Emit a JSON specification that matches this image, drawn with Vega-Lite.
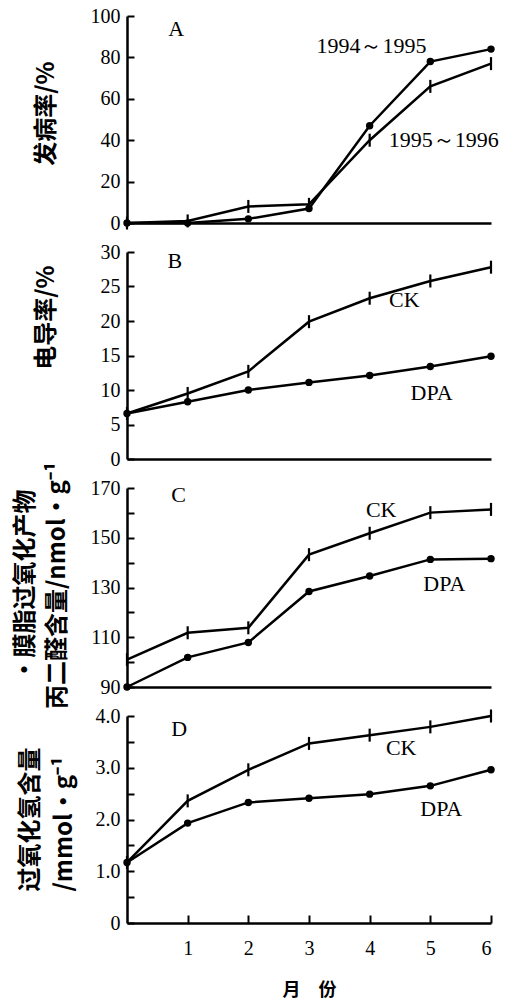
{
  "$schema": "https://vega.github.io/schema/vega-lite/v6.json",
  "padding": {"left": 12, "top": 6, "right": 0, "bottom": 0},
  "background": "white",
  "config": {
    "view": {"stroke": null},
    "axis": {
      "domainColor": "black", "domainWidth": 2.5,
      "tickColor": "black", "tickWidth": 2,
      "labelColor": "black", "labelFont": "Liberation Serif", "labelFontSize": 20,
      "titleColor": "black", "titleFont": "Noto Sans CJK SC", "titleFontSize": 24, "titleFontWeight": "bold",
      "grid": false
    }
  },
  "datasets": {
    "series": [
      {"panel": "A", "series": "1994～1995", "month": 0, "value": 0},
      {"panel": "A", "series": "1994～1995", "month": 1, "value": 0},
      {"panel": "A", "series": "1994～1995", "month": 2, "value": 2},
      {"panel": "A", "series": "1994～1995", "month": 3, "value": 7},
      {"panel": "A", "series": "1994～1995", "month": 4, "value": 47},
      {"panel": "A", "series": "1994～1995", "month": 5, "value": 78},
      {"panel": "A", "series": "1994～1995", "month": 6, "value": 84},
      {"panel": "A", "series": "1995～1996", "month": 0, "value": 0},
      {"panel": "A", "series": "1995～1996", "month": 1, "value": 1},
      {"panel": "A", "series": "1995～1996", "month": 2, "value": 8},
      {"panel": "A", "series": "1995～1996", "month": 3, "value": 9},
      {"panel": "A", "series": "1995～1996", "month": 4, "value": 40},
      {"panel": "A", "series": "1995～1996", "month": 5, "value": 66},
      {"panel": "A", "series": "1995～1996", "month": 6, "value": 77},
      {"panel": "B", "series": "CK", "month": 0, "value": 6.6},
      {"panel": "B", "series": "CK", "month": 1, "value": 9.5},
      {"panel": "B", "series": "CK", "month": 2, "value": 12.7},
      {"panel": "B", "series": "CK", "month": 3, "value": 19.9},
      {"panel": "B", "series": "CK", "month": 4, "value": 23.3},
      {"panel": "B", "series": "CK", "month": 5, "value": 25.8},
      {"panel": "B", "series": "CK", "month": 6, "value": 27.8},
      {"panel": "B", "series": "DPA", "month": 0, "value": 6.6},
      {"panel": "B", "series": "DPA", "month": 1, "value": 8.3},
      {"panel": "B", "series": "DPA", "month": 2, "value": 10},
      {"panel": "B", "series": "DPA", "month": 3, "value": 11.1},
      {"panel": "B", "series": "DPA", "month": 4, "value": 12.1},
      {"panel": "B", "series": "DPA", "month": 5, "value": 13.4},
      {"panel": "B", "series": "DPA", "month": 6, "value": 14.9},
      {"panel": "C", "series": "CK", "month": 0, "value": 101},
      {"panel": "C", "series": "CK", "month": 1, "value": 111.8},
      {"panel": "C", "series": "CK", "month": 2, "value": 113.8},
      {"panel": "C", "series": "CK", "month": 3, "value": 143.2},
      {"panel": "C", "series": "CK", "month": 4, "value": 151.8},
      {"panel": "C", "series": "CK", "month": 5, "value": 160.1},
      {"panel": "C", "series": "CK", "month": 6, "value": 161.4},
      {"panel": "C", "series": "DPA", "month": 0, "value": 90},
      {"panel": "C", "series": "DPA", "month": 1, "value": 101.9},
      {"panel": "C", "series": "DPA", "month": 2, "value": 107.9},
      {"panel": "C", "series": "DPA", "month": 3, "value": 128.4},
      {"panel": "C", "series": "DPA", "month": 4, "value": 134.6},
      {"panel": "C", "series": "DPA", "month": 5, "value": 141.3},
      {"panel": "C", "series": "DPA", "month": 6, "value": 141.6},
      {"panel": "D", "series": "CK", "month": 0, "value": 1.17},
      {"panel": "D", "series": "CK", "month": 1, "value": 2.36},
      {"panel": "D", "series": "CK", "month": 2, "value": 2.96},
      {"panel": "D", "series": "CK", "month": 3, "value": 3.47},
      {"panel": "D", "series": "CK", "month": 4, "value": 3.63},
      {"panel": "D", "series": "CK", "month": 5, "value": 3.79},
      {"panel": "D", "series": "CK", "month": 6, "value": 4.0},
      {"panel": "D", "series": "DPA", "month": 0, "value": 1.17},
      {"panel": "D", "series": "DPA", "month": 1, "value": 1.93},
      {"panel": "D", "series": "DPA", "month": 2, "value": 2.33},
      {"panel": "D", "series": "DPA", "month": 3, "value": 2.41},
      {"panel": "D", "series": "DPA", "month": 4, "value": 2.49},
      {"panel": "D", "series": "DPA", "month": 5, "value": 2.65},
      {"panel": "D", "series": "DPA", "month": 6, "value": 2.96}
    ],
    "labels": [
      {"panel": "A", "text": "A", "month": 0.81, "value": 93.7},
      {"panel": "A", "text": "1994～1995", "month": 4.03, "value": 85.6},
      {"panel": "A", "text": "1995～1996", "month": 5.22, "value": 39.9},
      {"panel": "B", "text": "B", "month": 0.79, "value": 28.7},
      {"panel": "B", "text": "CK", "month": 4.57, "value": 23.1},
      {"panel": "B", "text": "DPA", "month": 5.02, "value": 9.6},
      {"panel": "C", "text": "C", "month": 0.85, "value": 167.2},
      {"panel": "C", "text": "CK", "month": 4.19, "value": 161.3},
      {"panel": "C", "text": "DPA", "month": 5.23, "value": 131.6},
      {"panel": "D", "text": "D", "month": 0.86, "value": 3.75},
      {"panel": "D", "text": "CK", "month": 4.52, "value": 3.38},
      {"panel": "D", "text": "DPA", "month": 5.18, "value": 2.21}
    ]
  },
  "bounds": "flush",
  "spacing": 29,
  "vconcat": [
    {
      "width": 364, "height": 207,
      "encoding": {
        "x": {"field": "month", "type": "quantitative", "scale": {"domain": [0, 6], "nice": false},
              "axis": {"ticks": false, "labels": false, "title": null}},
        "y": {"field": "value", "type": "quantitative", "scale": {"domain": [0, 100], "nice": false},
              "axis": {"values": [0, 20, 40, 60, 80, 100], "tickSize": -7, "labelPadding": 14,
                       "title": "发病率/%", "titleX": -81, "titleY": 97, "titleBaseline": "middle", "titleAlign": "center"}}
      },
      "layer": [
        {"data": {"name": "series"}, "transform": [{"filter": "datum.panel == 'A'"}],
         "mark": {"type": "line", "color": "black", "strokeWidth": 2.5},
         "encoding": {"detail": {"field": "series"}}},
        {"data": {"name": "series"}, "transform": [{"filter": "datum.panel == 'A' && datum.series == '1994～1995'"}],
         "mark": {"type": "point", "shape": "circle", "filled": true, "color": "black", "size": 55, "opacity": 1}},
        {"data": {"name": "series"}, "transform": [{"filter": "datum.panel == 'A' && datum.series == '1995～1996'"}],
         "mark": {"type": "point", "shape": "M0,-1L0,1", "filled": false, "color": "black", "strokeWidth": 2.2, "size": 169, "opacity": 1}},
        {"data": {"name": "labels"}, "transform": [{"filter": "datum.panel == 'A'"}],
         "mark": {"type": "text", "font": "Liberation Serif", "fontSize": 22, "color": "black", "baseline": "middle", "align": "center"},
         "encoding": {"text": {"field": "text"}}}
      ]
    },
    {
      "width": 364, "height": 207,
      "encoding": {
        "x": {"field": "month", "type": "quantitative", "scale": {"domain": [0, 6], "nice": false},
              "axis": {"ticks": false, "labels": false, "title": null}},
        "y": {"field": "value", "type": "quantitative", "scale": {"domain": [0, 30], "nice": false},
              "axis": {"values": [0, 5, 10, 15, 20, 25, 30], "tickSize": -7, "labelPadding": 14,
                       "title": "电导率/%", "titleX": -81, "titleY": 65, "titleBaseline": "middle", "titleAlign": "center"}}
      },
      "layer": [
        {"data": {"name": "series"}, "transform": [{"filter": "datum.panel == 'B'"}],
         "mark": {"type": "line", "color": "black", "strokeWidth": 2.5},
         "encoding": {"detail": {"field": "series"}}},
        {"data": {"name": "series"}, "transform": [{"filter": "datum.panel == 'B' && datum.series == 'DPA'"}],
         "mark": {"type": "point", "shape": "circle", "filled": true, "color": "black", "size": 55, "opacity": 1}},
        {"data": {"name": "series"}, "transform": [{"filter": "datum.panel == 'B' && datum.series == 'CK'"}],
         "mark": {"type": "point", "shape": "M0,-1L0,1", "filled": false, "color": "black", "strokeWidth": 2.2, "size": 169, "opacity": 1}},
        {"data": {"name": "labels"}, "transform": [{"filter": "datum.panel == 'B'"}],
         "mark": {"type": "text", "font": "Liberation Serif", "fontSize": 22, "color": "black", "baseline": "middle", "align": "center"},
         "encoding": {"text": {"field": "text"}}}
      ]
    },
    {
      "width": 364, "height": 199,
      "encoding": {
        "x": {"field": "month", "type": "quantitative", "scale": {"domain": [0, 6], "nice": false},
              "axis": {"ticks": false, "labels": false, "title": null}},
        "y": {"field": "value", "type": "quantitative", "scale": {"domain": [90, 170], "nice": false, "zero": false},
              "axis": {"values": [90, 100, 110, 120, 130, 140, 150, 160, 170], "tickSize": -7, "labelPadding": 14,
                       "labelExpr": "datum.value % 20 == 10 ? datum.label : ''",
                       "title": ["·膜脂过氧化产物", "丙二醛含量/nmol·g⁻¹"], "titleLineHeight": 32,
                       "titleX": -102, "titleY": 97, "titleBaseline": "middle", "titleAlign": "center"}}
      },
      "layer": [
        {"data": {"name": "series"}, "transform": [{"filter": "datum.panel == 'C'"}],
         "mark": {"type": "line", "color": "black", "strokeWidth": 2.5},
         "encoding": {"detail": {"field": "series"}}},
        {"data": {"name": "series"}, "transform": [{"filter": "datum.panel == 'C' && datum.series == 'DPA'"}],
         "mark": {"type": "point", "shape": "circle", "filled": true, "color": "black", "size": 55, "opacity": 1}},
        {"data": {"name": "series"}, "transform": [{"filter": "datum.panel == 'C' && datum.series == 'CK'"}],
         "mark": {"type": "point", "shape": "M0,-1L0,1", "filled": false, "color": "black", "strokeWidth": 2.2, "size": 169, "opacity": 1}},
        {"data": {"name": "labels"}, "transform": [{"filter": "datum.panel == 'C'"}],
         "mark": {"type": "text", "font": "Liberation Serif", "fontSize": 22, "color": "black", "baseline": "middle", "align": "center"},
         "encoding": {"text": {"field": "text"}}}
      ]
    },
    {
      "width": 364, "height": 207,
      "encoding": {
        "x": {"field": "month", "type": "quantitative", "scale": {"domain": [0, 6], "nice": false},
              "axis": {"values": [1, 2, 3, 4, 5, 6], "tickSize": -8, "labelPadding": 23,
                       "title": "月　份", "titleFontSize": 18, "titleY": 67, "titleBaseline": "middle"}},
        "y": {"field": "value", "type": "quantitative", "scale": {"domain": [0, 4], "nice": false},
              "axis": {"values": [0, 0.5, 1, 1.5, 2, 2.5, 3, 3.5, 4], "tickSize": -7, "labelPadding": 14,
                       "labelExpr": "datum.value == 0 ? '0' : (datum.value % 1 == 0 ? format(datum.value, '.1f') : '')",
                       "title": ["过氧化氢含量", "/mmol·g⁻¹"], "titleLineHeight": 34,
                       "titleX": -97, "titleY": 175, "titleBaseline": "middle", "titleAlign": "left"}}
      },
      "layer": [
        {"data": {"name": "series"}, "transform": [{"filter": "datum.panel == 'D'"}],
         "mark": {"type": "line", "color": "black", "strokeWidth": 2.5},
         "encoding": {"detail": {"field": "series"}}},
        {"data": {"name": "series"}, "transform": [{"filter": "datum.panel == 'D' && datum.series == 'DPA'"}],
         "mark": {"type": "point", "shape": "circle", "filled": true, "color": "black", "size": 55, "opacity": 1}},
        {"data": {"name": "series"}, "transform": [{"filter": "datum.panel == 'D' && datum.series == 'CK'"}],
         "mark": {"type": "point", "shape": "M0,-1L0,1", "filled": false, "color": "black", "strokeWidth": 2.2, "size": 169, "opacity": 1}},
        {"data": {"name": "labels"}, "transform": [{"filter": "datum.panel == 'D'"}],
         "mark": {"type": "text", "font": "Liberation Serif", "fontSize": 22, "color": "black", "baseline": "middle", "align": "center"},
         "encoding": {"text": {"field": "text"}}}
      ]
    }
  ]
}
